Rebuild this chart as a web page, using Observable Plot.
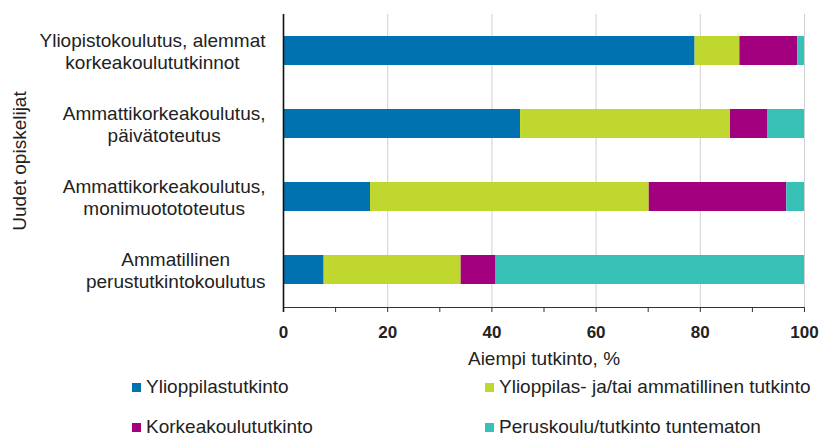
<!DOCTYPE html>
<html>
<head>
<meta charset="utf-8">
<script src="https://cdn.jsdelivr.net/npm/d3@7"></script>
<script src="https://cdn.jsdelivr.net/npm/@observablehq/plot@0.6"></script>
<style>
  body { margin: 0; background: #fff; font-family: "Liberation Sans", Arial, sans-serif; }
  #wrap { position: relative; width: 821px; height: 439px; overflow: hidden; }
  #legend { position: absolute; left: 0; top: 378px; width: 821px; font-size: 19px; color: #222; }
  .item { position: absolute; height: 17px; line-height: 17px; white-space: nowrap; }
  .sw { display: inline-block; width: 9px; height: 9px; margin-right: 5px; margin-bottom: 1px; }
</style>
</head>
<body>
<div id="wrap"><div id="chart"></div><div id="legend"></div></div>
<script>
// ---- data ----
const categories = [
  "Yliopistokoulutus, alemmat korkeakoulututkinnot",
  "Ammattikorkeakoulutus, päivätoteutus",
  "Ammattikorkeakoulutus, monimuotototeutus",
  "Ammatillinen perustutkintokoulutus"
];
const categoryLabels = [
  "Yliopistokoulutus, alemmat\nkorkeakoulututkinnot",
  "Ammattikorkeakoulutus,\npäivätoteutus",
  "Ammattikorkeakoulutus,\nmonimuotototeutus",
  "Ammatillinen\nperustutkintokoulutus"
];
const series = [
  "Ylioppilastutkinto",
  "Ylioppilas- ja/tai ammatillinen tutkinto",
  "Korkeakoulututkinto",
  "Peruskoulu/tutkinto tuntematon"
];
const colors = ["#0072b0", "#c0d72f", "#a2007e", "#36c0b6"];
const ylioppilas = [79.0, 45.5, 16.7, 7.8];
const yoTaiAmmatillinen = [8.6, 40.3, 53.5, 26.3];
const korkeakoulu = [11.1, 7.1, 26.4, 6.7];
const peruskoulu = [1.3, 7.1, 3.4, 59.2];
const seriesValues = [ylioppilas, yoTaiAmmatillinen, korkeakoulu, peruskoulu];
const xTicks = [0, 10, 20, 30, 40, 50, 60, 70, 80, 90, 100];
const xLabelTicks = [0, 20, 40, 60, 80, 100];
const gridTicks = [20, 40, 60, 80, 100];
const xTitle = "Aiempi tutkinto, %";
const yTitle = "Uudet opiskelijat";

const data = [];
series.forEach((s, i) => categories.forEach((c, j) => data.push({category: c, series: s, value: seriesValues[i][j]})));
const labelMap = new Map(categories.map((c, i) => [c, categoryLabels[i]]));

const font = "Liberation Sans, Arial, sans-serif";
const chart = Plot.plot({
  width: 821,
  height: 370,
  marginLeft: 283,
  marginRight: 17,
  marginTop: 14,
  marginBottom: 63,
  style: {fontFamily: font, color: "#222", background: "#fff", overflow: "visible"},
  x: {domain: [0, 100]},
  y: {domain: categories, paddingInner: 0.6, paddingOuter: 0.3},
  color: {domain: series, range: colors},
  marks: [
    Plot.gridX(gridTicks, {stroke: "#cfcfcf", strokeOpacity: 1}),
    Plot.barX(data, {x: "value", y: "category", fill: "series", order: series}),
    Plot.axisX(xTicks, {tickSize: 5, tickFormat: () => "", stroke: "#333", fontSize: 19,
      label: xTitle, labelAnchor: "center", labelArrow: "none", labelOffset: 57}),
    Plot.axisX(xLabelTicks, {tickSize: 0, tickPadding: 18, fontSize: 17, fontWeight: "bold", label: null}),
    Plot.axisY({tickSize: 0, tickPadding: 18, fontSize: 19, lineHeight: 1.16,
      tickFormat: c => labelMap.get(c), label: yTitle, labelAnchor: "center", labelArrow: "none", labelOffset: 271}),
    Plot.frame({anchor: "bottom", stroke: "#333"}),
    Plot.ruleX([0], {stroke: "#111", strokeWidth: 1.6, insetBottom: -5})
  ]
});
document.getElementById("chart").appendChild(chart);

// centre each multi-line y label within its own block (right edge kept)
chart.querySelectorAll('g[aria-label="y-axis tick label"] text').forEach(t => {
  const spans = t.querySelectorAll("tspan");
  const parts = spans.length ? Array.from(spans) : [t];
  const maxW = d3.max(parts, p => p.getComputedTextLength());
  t.setAttribute("text-anchor", "middle");
  parts.forEach(p => {
    const x0 = +(p.getAttribute("x") || 0);
    p.setAttribute("x", x0 - maxW / 2);
  });
});

// legend
const legend = document.getElementById("legend");
const legendPos = [[132, 0], [485, 0], [132, 40], [485, 40]];
series.forEach((s, i) => {
  const it = document.createElement("div");
  it.className = "item";
  it.style.left = legendPos[i][0] + "px";
  it.style.top = legendPos[i][1] + "px";
  const sw = document.createElement("span");
  sw.className = "sw";
  sw.style.background = colors[i];
  it.appendChild(sw);
  it.appendChild(document.createTextNode(s));
  legend.appendChild(it);
});
</script>
</body>
</html>
